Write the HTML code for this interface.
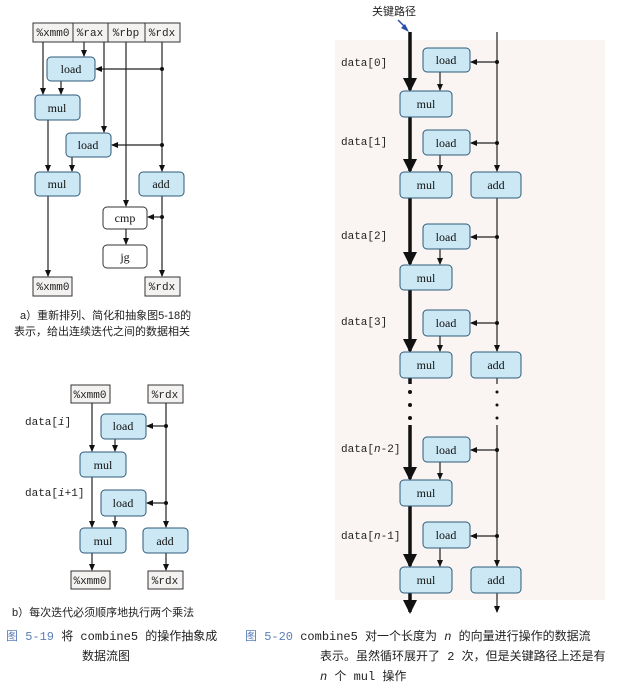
<!DOCTYPE html>
<html><head><meta charset="utf-8"><style>
html,body{margin:0;padding:0;background:#fff;}
svg{display:block;}
.m{font-family:"Liberation Mono",monospace;font-size:11px;fill:#222;}
.s{font-family:"Liberation Serif",serif;font-size:12px;fill:#111;}
.c{font-family:"Liberation Sans","Noto Sans CJK SC",sans-serif;font-size:11px;fill:#222;}
.cap{font-family:"Liberation Mono","Noto Sans CJK SC",sans-serif;font-size:12px;fill:#222;}
.blue{fill:#5a7fb8;}
</style></head><body>
<svg width="617" height="690" viewBox="0 0 617 690" xmlns="http://www.w3.org/2000/svg">
<defs>
<marker id="a" markerWidth="8" markerHeight="8" refX="6" refY="4" orient="auto" markerUnits="userSpaceOnUse"><path d="M0,1 L7,4 L0,7 Z" fill="#111"/></marker>
<marker id="A" markerWidth="16" markerHeight="16" refX="12" refY="8" orient="auto" markerUnits="userSpaceOnUse"><path d="M0,1 L14,8 L0,15 Z" fill="#111"/></marker>
</defs>
<g stroke="#222" stroke-width="1.2" fill="none">
<!-- ===== Diagram a ===== -->
<line x1="43" y1="42" x2="43" y2="94" marker-end="url(#a)"/>
<line x1="84" y1="42" x2="84" y2="56" marker-end="url(#a)"/>
<line x1="104" y1="42" x2="104" y2="132" marker-end="url(#a)"/>
<line x1="126" y1="42" x2="126" y2="206" marker-end="url(#a)"/>
<line x1="162" y1="42" x2="162" y2="171" marker-end="url(#a)"/>
<line x1="162" y1="69" x2="96" y2="69" marker-end="url(#a)"/>
<line x1="162" y1="145" x2="112" y2="145" marker-end="url(#a)"/>
<line x1="162" y1="217" x2="148" y2="217" marker-end="url(#a)"/>
<line x1="61" y1="81" x2="61" y2="94" marker-end="url(#a)"/>
<line x1="48" y1="120" x2="48" y2="171" marker-end="url(#a)"/>
<line x1="72" y1="157" x2="72" y2="171" marker-end="url(#a)"/>
<line x1="48" y1="196" x2="48" y2="276" marker-end="url(#a)"/>
<line x1="162" y1="196" x2="162" y2="276" marker-end="url(#a)"/>
<line x1="126" y1="229" x2="126" y2="244" marker-end="url(#a)"/>
<!-- ===== Diagram b ===== -->
<line x1="92" y1="403" x2="92" y2="451" marker-end="url(#a)"/>
<line x1="115" y1="439" x2="115" y2="451" marker-end="url(#a)"/>
<line x1="92" y1="477" x2="92" y2="527" marker-end="url(#a)"/>
<line x1="115" y1="516" x2="115" y2="527" marker-end="url(#a)"/>
<line x1="166" y1="403" x2="166" y2="527" marker-end="url(#a)"/>
<line x1="166" y1="426" x2="147" y2="426" marker-end="url(#a)"/>
<line x1="166" y1="503" x2="147" y2="503" marker-end="url(#a)"/>
<line x1="92" y1="553" x2="92" y2="570" marker-end="url(#a)"/>
<line x1="166" y1="553" x2="166" y2="570" marker-end="url(#a)"/>
</g>
<rect x="335" y="40" width="270" height="560" fill="#faf5f3"/>
<g stroke="#222" stroke-width="1.2" fill="none">
<!-- right diagram thin lines -->
<line x1="497" y1="32" x2="497" y2="171" marker-end="url(#a)"/>
<line x1="497" y1="198" x2="497" y2="351" marker-end="url(#a)"/>
<line x1="497" y1="378" x2="497" y2="384"/>
<line x1="497" y1="425" x2="497" y2="566" marker-end="url(#a)"/>
<line x1="497" y1="593" x2="497" y2="612" marker-end="url(#a)"/>
<line x1="497" y1="62" x2="471" y2="62" marker-end="url(#a)"/>
<line x1="497" y1="143" x2="471" y2="143" marker-end="url(#a)"/>
<line x1="497" y1="237" x2="471" y2="237" marker-end="url(#a)"/>
<line x1="497" y1="323" x2="471" y2="323" marker-end="url(#a)"/>
<line x1="497" y1="450" x2="471" y2="450" marker-end="url(#a)"/>
<line x1="497" y1="536" x2="471" y2="536" marker-end="url(#a)"/>
<line x1="440" y1="72" x2="440" y2="90" marker-end="url(#a)"/>
<line x1="440" y1="155" x2="440" y2="171" marker-end="url(#a)"/>
<line x1="440" y1="249" x2="440" y2="264" marker-end="url(#a)"/>
<line x1="440" y1="336" x2="440" y2="351" marker-end="url(#a)"/>
<line x1="440" y1="462" x2="440" y2="479" marker-end="url(#a)"/>
<line x1="440" y1="548" x2="440" y2="566" marker-end="url(#a)"/>
</g>
<g stroke="#111" stroke-width="3.5" fill="none">
<line x1="410" y1="32" x2="410" y2="90" marker-end="url(#A)"/>
<line x1="410" y1="117" x2="410" y2="171" marker-end="url(#A)"/>
<line x1="410" y1="198" x2="410" y2="264" marker-end="url(#A)"/>
<line x1="410" y1="290" x2="410" y2="351" marker-end="url(#A)"/>
<line x1="410" y1="378" x2="410" y2="384"/>
<line x1="410" y1="425" x2="410" y2="479" marker-end="url(#A)"/>
<line x1="410" y1="506" x2="410" y2="566" marker-end="url(#A)"/>
<line x1="410" y1="593" x2="410" y2="612" marker-end="url(#A)"/>
</g>
<g fill="#111">
<circle cx="162" cy="69" r="2"/><circle cx="162" cy="145" r="2"/><circle cx="162" cy="217" r="2"/>
<circle cx="166" cy="426" r="2"/><circle cx="166" cy="503" r="2"/>
<circle cx="497" cy="62" r="2"/><circle cx="497" cy="143" r="2"/><circle cx="497" cy="237" r="2"/><circle cx="497" cy="323" r="2"/><circle cx="497" cy="450" r="2"/><circle cx="497" cy="536" r="2"/>
<circle cx="410" cy="392" r="2"/><circle cx="410" cy="405" r="2"/><circle cx="410" cy="418" r="2"/>
<circle cx="497" cy="392" r="1.5"/><circle cx="497" cy="405" r="1.5"/><circle cx="497" cy="418" r="1.5"/>
</g>
<!-- blue arrow 关键路径 -->
<line x1="398" y1="20" x2="407" y2="29" stroke="#2a4fa8" stroke-width="1.5"/>
<path d="M409,32 L401,28 L405,24 Z" fill="#2a4fa8"/>
<text x="372" y="15" class="c" font-size="12">关键路径</text>

<g stroke="#333" stroke-width="1" fill="#fff">
<rect x="33" y="23" width="40" height="19" fill="#f4f2f0"/>
<rect x="73" y="23" width="35" height="19" fill="#f4f2f0"/>
<rect x="108" y="23" width="37" height="19" fill="#f4f2f0"/>
<rect x="145" y="23" width="35" height="19" fill="#f4f2f0"/>
<rect x="33" y="277" width="39" height="19" fill="#f4f2f0"/>
<rect x="145" y="277" width="35" height="19" fill="#f4f2f0"/>
<rect x="103" y="207" width="44" height="22" rx="4"/>
<rect x="103" y="245" width="44" height="23" rx="4"/>
<rect x="71" y="385" width="39" height="18" fill="#f4f2f0"/>
<rect x="148" y="385" width="35" height="18" fill="#f4f2f0"/>
<rect x="71" y="571" width="39" height="18" fill="#f4f2f0"/>
<rect x="148" y="571" width="35" height="18" fill="#f4f2f0"/>
</g>
<g stroke="#2e5a78" stroke-width="1" fill="#cbe8f4">
<rect x="47" y="57" width="48" height="24" rx="4"/>
<rect x="35" y="95" width="45" height="25" rx="4"/>
<rect x="66" y="133" width="45" height="24" rx="4"/>
<rect x="35" y="172" width="45" height="24" rx="4"/>
<rect x="139" y="172" width="45" height="24" rx="4"/>
<rect x="101" y="414" width="45" height="25" rx="4"/>
<rect x="80" y="452" width="46" height="25" rx="4"/>
<rect x="101" y="490" width="45" height="26" rx="4"/>
<rect x="80" y="528" width="46" height="25" rx="4"/>
<rect x="143" y="528" width="45" height="25" rx="4"/>
<rect x="423" y="48" width="47" height="24" rx="4"/>
<rect x="400" y="91" width="52" height="26" rx="4"/>
<rect x="423" y="130" width="47" height="25" rx="4"/>
<rect x="400" y="172" width="52" height="26" rx="4"/>
<rect x="471" y="172" width="50" height="26" rx="4"/>
<rect x="423" y="224" width="47" height="25" rx="4"/>
<rect x="400" y="265" width="52" height="25" rx="4"/>
<rect x="423" y="310" width="47" height="26" rx="4"/>
<rect x="400" y="352" width="52" height="26" rx="4"/>
<rect x="471" y="352" width="50" height="26" rx="4"/>
<rect x="423" y="437" width="47" height="25" rx="4"/>
<rect x="400" y="480" width="52" height="26" rx="4"/>
<rect x="423" y="522" width="47" height="26" rx="4"/>
<rect x="400" y="567" width="52" height="26" rx="4"/>
<rect x="471" y="567" width="50" height="26" rx="4"/>
</g>
<g class="m" text-anchor="middle">
<text x="53" y="36">%xmm0</text><text x="90" y="36">%rax</text><text x="126" y="36">%rbp</text><text x="162" y="36">%rdx</text>
<text x="53" y="290">%xmm0</text><text x="162" y="290">%rdx</text>
<text x="90" y="398">%xmm0</text><text x="165" y="398">%rdx</text>
<text x="90" y="584">%xmm0</text><text x="165" y="584">%rdx</text>
</g>
<g class="s" text-anchor="middle">
<text x="71" y="73">load</text><text x="57" y="112">mul</text><text x="88" y="149">load</text><text x="57" y="188">mul</text><text x="161" y="188">add</text>
<text x="125" y="222">cmp</text><text x="125" y="261">jg</text>
<text x="123" y="430">load</text><text x="103" y="469">mul</text><text x="123" y="507">load</text><text x="103" y="545">mul</text><text x="165" y="545">add</text>
<text x="446" y="64">load</text><text x="426" y="108">mul</text><text x="446" y="147">load</text><text x="426" y="189">mul</text><text x="496" y="189">add</text>
<text x="446" y="241">load</text><text x="426" y="282">mul</text><text x="446" y="327">load</text><text x="426" y="369">mul</text><text x="496" y="369">add</text>
<text x="446" y="454">load</text><text x="426" y="497">mul</text><text x="446" y="539">load</text><text x="426" y="584">mul</text><text x="496" y="584">add</text>
</g>
<g class="m">
<text x="25" y="425">data[<tspan font-style="italic">i</tspan>]</text>
<text x="25" y="496">data[<tspan font-style="italic">i</tspan>+1]</text>
<text x="341" y="66">data[0]</text>
<text x="341" y="145">data[1]</text>
<text x="341" y="239">data[2]</text>
<text x="341" y="325">data[3]</text>
<text x="341" y="452">data[<tspan font-style="italic">n</tspan>-2]</text>
<text x="341" y="539">data[<tspan font-style="italic">n</tspan>-1]</text>
</g>
<g class="c">
<text x="20" y="319">a）重新排列、简化和抽象图5-18的</text>
<text x="14" y="335">表示，给出连续迭代之间的数据相关</text>
<text x="12" y="616">b）每次迭代必须顺序地执行两个乘法</text>
</g>
<g class="cap">
<text x="6" y="640"><tspan class="blue">图 5-19</tspan>   将 combine5 的操作抽象成</text>
<text x="82" y="660">数据流图</text>
<text x="245" y="640"><tspan class="blue">图 5-20</tspan>   combine5 对一个长度为 <tspan font-style="italic">n</tspan> 的向量进行操作的数据流</text>
<text x="320" y="660">表示。虽然循环展开了 2 次，但是关键路径上还是有</text>
<text x="320" y="680"><tspan font-style="italic">n</tspan> 个 mul 操作</text>
</g>
</svg>
</body></html>
